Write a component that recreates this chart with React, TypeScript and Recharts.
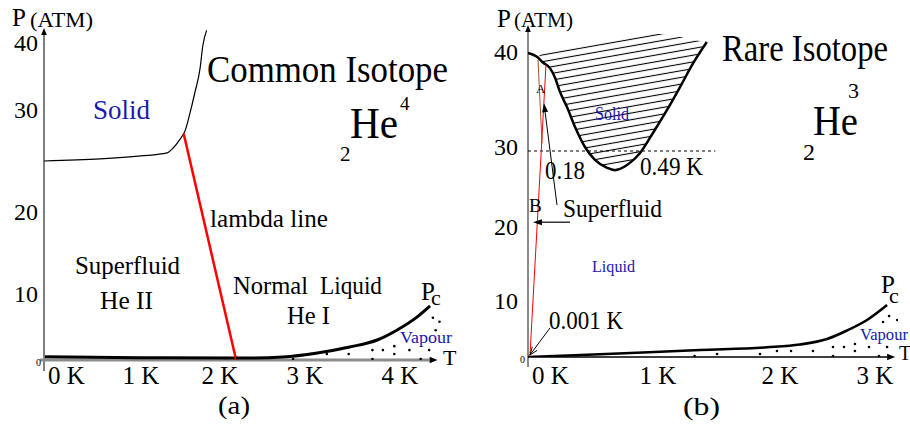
import {
  Area,
  ComposedChart,
  Line,
  ReferenceLine,
  Scatter,
  XAxis,
  YAxis,
} from 'recharts';

const SERIF = 'Liberation Serif, Times New Roman, Times, serif';
const BLUE = '#1818b0';

// tick values
const he4TTicks = [0, 1, 2, 3, 4];
const he3TTicks = [0, 1, 2, 3];
const pTicks = [0, 10, 20, 30, 40];

// (a) common isotope, He-4
const he4MeltT = [0, 0.58, 1.0, 1.33, 1.41, 1.49, 1.56, 1.62, 1.68, 1.75, 1.78, 1.83];
const he4MeltP = [25.0, 25.2, 25.5, 25.8, 26.3, 27.1, 28.0, 29.7, 32.5, 36.4, 39.4, 41.9];
const he4LambdaT = [1.54, 2.19];
const he4LambdaP = [27.7, 0];
const he4VapT = [0.01, 0.99, 2.15, 2.35, 2.74, 3.13, 3.47, 3.76, 3.97, 4.18, 4.32];
const he4VapP = [0.5, 0.35, 0.3, 0.3, 0.45, 1.06, 1.97, 3.03, 4.55, 6.5, 8.2];
const he4DotT = [2.06, 2.2, 2.86, 3.06, 3.23, 3.46, 3.71, 3.71, 3.82, 3.94, 3.94, 4.1, 4.22, 4.31, 4.35, 4.42, 4.38];
const he4DotP = [0.3, 0.3, 0.15, 0.9, 0.9, 0.9, 1.5, 0.15, 1.5, 2.1, 0.9, 1.5, 0.15, 1.5, 6.4, 5.8, 4.5];

// (b) rare isotope, He-3
const he3MeltT = [0, 0.069, 0.115, 0.169, 0.208, 0.246, 0.3, 0.362, 0.438, 0.515, 0.608, 0.669, 0.762, 0.862, 0.962, 1.074, 1.18, 1.287, 1.4];
const he3MeltP = [39.9, 39.5, 38.9, 38.3, 37.3, 35.8, 34.2, 32.1, 30.0, 28.4, 27.4, 27.1, 27.75, 29.25, 31.5, 33.9, 36.3, 38.8, 41.05];
const he3HatchTop = [39.9, 39.5, 39.9, 40.03, 40.12, 40.21, 40.34, 40.49, 40.67, 40.85, 41.08, 41.22, 41.45, 41.69, 41.93, 41.85, 41.6, 41.3, 41.05];
const he3SuperT = [0.015, 0.138];
const he3SuperP = [0.18, 38.6];
const he3BrownT = [0.077, 0.108];
const he3BrownP = [39.16, 30.4];
const he3VapT = [0, 0.554, 1.344, 1.893, 2.21, 2.495, 2.705, 2.916, 3.126];
const he3VapP = [0, 0.48, 1.25, 1.73, 2.23, 3.21, 4.73, 6.61, 9.29];
const he3DotT = [1.3, 1.484, 1.836, 1.975, 2.116, 2.347, 2.558, 2.558, 2.674, 2.789, 2.789, 2.937, 3.042, 3.126, 3.084, 3.147, 3.232];
const he3DotP = [0.18, 0.54, 0.54, 1.07, 1.07, 1.07, 1.79, 0.18, 1.79, 2.32, 1.07, 1.79, 0.18, 1.79, 6.25, 7.3, 6.6];
const he3Dashed = 29.5;

const rows = (ts: number[], ps: number[]) => ts.map((t, i) => ({ t, p: ps[i] }));

// the drawing is schematic: tick spacing is not uniform, so each axis is piecewise linear
function piecewiseScale(knots: number[], fracs: number[]): any {
  let dom = [knots[0], knots[knots.length - 1]];
  let rng = [0, 1];
  const scale: any = (v: number) => {
    let i = 0;
    while (i < knots.length - 2 && v > knots[i + 1]) i += 1;
    const f = fracs[i] + ((v - knots[i]) / (knots[i + 1] - knots[i])) * (fracs[i + 1] - fracs[i]);
    return rng[0] + f * (rng[1] - rng[0]);
  };
  scale.domain = (d?: number[]) => {
    if (d === undefined) return dom.slice();
    dom = d.slice();
    return scale;
  };
  scale.range = (r?: number[]) => {
    if (r === undefined) return rng.slice();
    rng = r.slice();
    return scale;
  };
  scale.copy = () => piecewiseScale(knots, fracs).domain(dom).range(rng);
  scale.ticks = () => knots.slice(0, -1);
  scale.tickFormat = () => (v: number) => String(v);
  return scale;
}

const he4TScale = piecewiseScale([0, 1, 2, 3, 4, 4.5], [0, 0.2407, 0.4367, 0.6476, 0.8834, 1]);
const he4PScale = piecewiseScale([0, 10, 20, 30, 40, 42.25], [0, 0.1988, 0.4458, 0.753, 0.9548, 1]);
const he3TScale = piecewiseScale([0, 1, 2, 3, 3.24], [0, 0.3514, 0.6811, 0.9378, 1]);
const he3PScale = piecewiseScale([0, 10, 20, 30, 40, 42.84], [0, 0.1687, 0.3916, 0.6325, 0.9187, 1]);

const tTick = (drop: number) => (p: any) => {
  const v = p.payload.value;
  const first = v === 0;
  return (
    <text
      x={first ? p.x + 4 : p.x}
      y={p.y + drop}
      textAnchor={first ? 'start' : 'middle'}
      fontSize={25}
      fontFamily={SERIF}
      fill="#000"
    >
      {`${v} K`}
    </text>
  );
};

const pTick = (gap: number) => (p: any) => {
  const v = p.payload.value;
  if (v === 0) {
    return (
      <text x={p.x - 3} y={p.y + 6} textAnchor="end" fontSize={10} fontFamily={SERIF} fill="#000">
        0
      </text>
    );
  }
  return (
    <text x={p.x - gap} y={p.y} dy="0.34em" textAnchor="end" fontSize={24} fontFamily={SERIF} fill="#000">
      {v}
    </text>
  );
};

function arrow(lineColor: string, lineWidth: number, headColor: string, len: number, half: number, open = false) {
  return (p: any) => {
    const { x1, y1, x2, y2 } = p;
    const a = Math.atan2(y2 - y1, x2 - x1);
    const c = Math.cos(a);
    const s = Math.sin(a);
    const bx = x2 - len * c;
    const by = y2 - len * s;
    const lx = bx - half * s;
    const ly = by + half * c;
    const rx = bx + half * s;
    const ry = by - half * c;
    return (
      <g>
        <line x1={x1} y1={y1} x2={open ? x2 : bx} y2={open ? y2 : by} stroke={lineColor} strokeWidth={lineWidth} />
        {open ? (
          <polyline points={`${lx},${ly} ${x2},${y2} ${rx},${ry}`} fill="none" stroke={headColor} strokeWidth={1} />
        ) : (
          <polygon points={`${x2},${y2} ${lx},${ly} ${rx},${ry}`} fill={headColor} />
        )}
      </g>
    );
  };
}

const dot = (p: any) => <circle cx={p.cx} cy={p.cy} r={1.3} fill="#000" />;

const notes: { text: string; x: number; y: number; size: number; w?: number; color?: string }[] = [
  { text: 'P', x: 12, y: 26, size: 25 },
  { text: '(ATM)', x: 30, y: 27, size: 20, w: 63 },
  { text: 'Solid', x: 93, y: 119, size: 27, w: 57, color: BLUE },
  { text: 'Common Isotope', x: 207, y: 82, size: 37, w: 241 },
  { text: 'He', x: 350, y: 138, size: 44, w: 48 },
  { text: '2', x: 340, y: 161, size: 21 },
  { text: '4', x: 400, y: 110, size: 19 },
  { text: 'lambda line', x: 210, y: 227, size: 25, w: 118 },
  { text: 'Superfluid', x: 75, y: 274, size: 26, w: 105 },
  { text: 'He II', x: 100, y: 309, size: 26, w: 53 },
  { text: 'Normal', x: 233, y: 294, size: 26, w: 75 },
  { text: 'Liquid', x: 320, y: 294, size: 26, w: 62 },
  { text: 'He I', x: 287, y: 324, size: 26, w: 43 },
  { text: 'P', x: 421, y: 300, size: 25 },
  { text: 'c', x: 431, y: 305, size: 22 },
  { text: 'Vapour', x: 400, y: 343, size: 17, w: 52, color: BLUE },
  { text: 'T', x: 443, y: 365, size: 22 },
  { text: '(a)', x: 218, y: 414, size: 26, w: 32 },

  { text: 'P', x: 497, y: 27, size: 25 },
  { text: '(ATM)', x: 514, y: 27, size: 20, w: 59 },
  { text: 'Rare Isotope', x: 722, y: 61, size: 38, w: 166 },
  { text: 'He', x: 813, y: 135, size: 42, w: 45 },
  { text: '2', x: 803, y: 160, size: 24 },
  { text: '3', x: 848, y: 98, size: 22 },
  { text: 'Solid', x: 595, y: 120, size: 18, w: 34, color: BLUE },
  { text: 'A', x: 536, y: 93, size: 13 },
  { text: '0.18', x: 545, y: 179, size: 26, w: 40 },
  { text: '0.49 K', x: 640, y: 175, size: 26, w: 63 },
  { text: 'B', x: 529, y: 212, size: 19 },
  { text: 'Superfluid', x: 563, y: 217, size: 25, w: 99 },
  { text: 'Liquid', x: 592, y: 272, size: 17, w: 43, color: BLUE },
  { text: '0.001 K', x: 549, y: 329, size: 25, w: 74 },
  { text: 'P', x: 881, y: 293, size: 25 },
  { text: 'c', x: 889, y: 303, size: 22 },
  { text: 'Vapour', x: 860, y: 340, size: 16, w: 48, color: BLUE },
  { text: 'T', x: 899, y: 360, size: 20 },
  { text: '(b)', x: 683, y: 415, size: 26, w: 37 },
];

// axes are 1px wide/tall so that Recharts still renders their ticks
const axisProps = {
  type: 'number' as const,
  axisLine: false,
  tickLine: false,
  tickSize: 0,
  tickMargin: 0,
  interval: 0 as const,
  allowDataOverflow: true,
};

export default function App() {
  const he3Hatch = he3MeltT.map((t, i) => ({ t, band: [he3MeltP[i], he3HatchTop[i]] }));

  return (
    <div style={{ position: 'absolute', left: 0, top: 0, width: 910, height: 428, background: '#fff' }}>
      <div style={{ position: 'absolute', left: 0, top: 0 }}>
        <ComposedChart width={455} height={428} margin={{ top: 28, right: 8, bottom: 67, left: 43 }}>
          <XAxis {...axisProps} dataKey="t" domain={[0, 4.5]} scale={he4TScale} ticks={he4TTicks} height={1} tick={tTick(24)} />
          <YAxis {...axisProps} dataKey="p" domain={[0, 42.25]} scale={he4PScale} ticks={pTicks} width={1} tick={pTick(6)} />
          <ReferenceLine segment={[{ x: 0, y: -1.67 }, { x: 0, y: 42.25 }]} ifOverflow="visible" shape={arrow('#000', 1, '#000', 7, 2.8)} />
          <ReferenceLine segment={[{ x: -0.041, y: 0 }, { x: 4.4, y: 0 }]} ifOverflow="visible" shape={arrow('#8c8c8c', 3, '#000', 8, 3.2)} />
          <Line data={rows(he4MeltT, he4MeltP)} dataKey="p" type="monotone" stroke="#000" strokeWidth={1.2} dot={false} activeDot={false} isAnimationActive={false} />
          <Line data={rows(he4VapT, he4VapP)} dataKey="p" type="monotone" stroke="#000" strokeWidth={3} dot={false} activeDot={false} isAnimationActive={false} />
          <Line data={rows(he4LambdaT, he4LambdaP)} dataKey="p" type="linear" stroke="#ff0000" strokeWidth={2.5} dot={false} activeDot={false} isAnimationActive={false} />
          <Scatter data={rows(he4DotT, he4DotP)} dataKey="p" shape={dot} isAnimationActive={false} />
        </ComposedChart>
      </div>

      <div style={{ position: 'absolute', left: 455, top: 0 }}>
        <ComposedChart width={455} height={428} margin={{ top: 25, right: 12, bottom: 70, left: 72 }}>
          <defs>
            <pattern id="he3hatch" patternUnits="userSpaceOnUse" width="14" height="6.6" patternTransform="rotate(-10)">
              <line x1="0" y1="3.3" x2="14" y2="3.3" stroke="#000" strokeWidth="1.1" />
            </pattern>
          </defs>
          <XAxis {...axisProps} dataKey="t" domain={[0, 3.24]} scale={he3TScale} ticks={he3TTicks} height={1} tick={tTick(27)} />
          <YAxis {...axisProps} dataKey="p" domain={[0, 42.84]} scale={he3PScale} ticks={pTicks} width={1} tick={pTick(10)} />
          <Area data={he3Hatch} dataKey="band" type="monotone" stroke="none" fill="url(#he3hatch)" fillOpacity={1} activeDot={false} isAnimationActive={false} />
          <ReferenceLine segment={[{ x: 0, y: -1.79 }, { x: 0, y: 42.84 }]} ifOverflow="visible" shape={arrow('#8a8a8a', 2, '#000', 7, 2.8)} />
          <ReferenceLine segment={[{ x: 0, y: 0 }, { x: 3.21, y: 0 }]} ifOverflow="visible" shape={arrow('#000', 1.4, '#000', 8, 3.2)} />
          <ReferenceLine segment={[{ x: 0, y: he3Dashed }, { x: 1.47, y: he3Dashed }]} ifOverflow="visible" stroke="#000" strokeWidth={1} strokeDasharray="3 3" />
          <Line data={rows(he3MeltT, he3MeltP)} dataKey="p" type="monotone" stroke="#000" strokeWidth={2.5} dot={false} activeDot={false} isAnimationActive={false} />
          <Line data={rows(he3VapT, he3VapP)} dataKey="p" type="monotone" stroke="#000" strokeWidth={2.6} dot={false} activeDot={false} isAnimationActive={false} />
          <Line data={rows(he3BrownT, he3BrownP)} dataKey="p" type="linear" stroke="#a0522d" strokeWidth={1} dot={false} activeDot={false} isAnimationActive={false} />
          <Line data={rows(he3SuperT, he3SuperP)} dataKey="p" type="linear" stroke="#ff0000" strokeWidth={1} dot={false} activeDot={false} isAnimationActive={false} />
          <Scatter data={rows(he3DotT, he3DotP)} dataKey="p" shape={dot} isAnimationActive={false} />
          <ReferenceLine segment={[{ x: 0.223, y: 22.75 }, { x: 0.123, y: 34.6 }]} ifOverflow="visible" shape={arrow('#000', 1, '#000', 9, 3)} />
          <ReferenceLine segment={[{ x: 0.323, y: 20.6 }, { x: 0.038, y: 20.6 }]} ifOverflow="visible" shape={arrow('#000', 1.2, '#000', 9, 3)} />
          <ReferenceLine segment={[{ x: 0.169, y: 5.18 }, { x: 0.015, y: 0.36 }]} ifOverflow="visible" shape={arrow('#000', 1, '#000', 8, 3, true)} />
        </ComposedChart>
      </div>

      <svg width={910} height={428} style={{ position: 'absolute', left: 0, top: 0, pointerEvents: 'none' }}>
        {notes.map((n, i) => (
          <text
            key={i}
            x={n.x}
            y={n.y}
            fontSize={n.size}
            fontFamily={SERIF}
            fill={n.color ?? '#000'}
            {...(n.w ? { textLength: n.w, lengthAdjust: 'spacingAndGlyphs' } : {})}
          >
            {n.text}
          </text>
        ))}
      </svg>
    </div>
  );
}
